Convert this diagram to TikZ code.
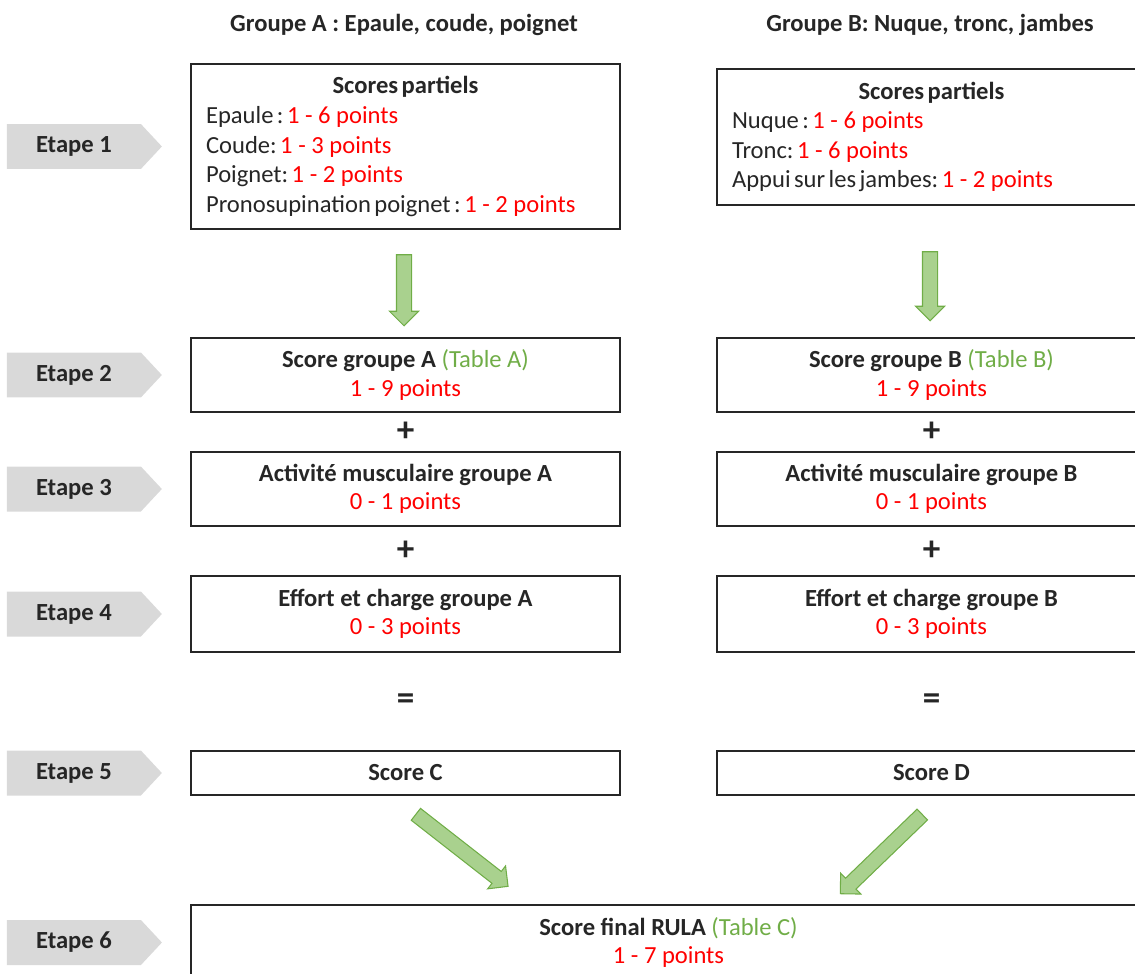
\documentclass[tikz,border=0pt]{standalone}
\usepackage{fontspec}
\setmainfont{Carlito}
\frenchspacing
\usetikzlibrary{positioning,calc,shapes.symbols,shapes.arrows}
\definecolor{etapegray}{HTML}{D9D9D9}
\definecolor{arrowfill}{HTML}{A9D18E}
\definecolor{arrowline}{HTML}{70AD47}
\definecolor{tablegreen}{HTML}{70AD47}
\definecolor{ptred}{HTML}{FF0000}
\definecolor{darktext}{HTML}{262626}
\newcommand{\pts}[1]{\textcolor{ptred}{\spaceskip=0pt\relax #1}}
\newcommand{\tbl}[1]{\textcolor{tablegreen}{#1}}
\newcommand{\tightspaces}{\spaceskip=0.14em plus 0.05em\relax}
\tikzset{
	stagebox/.style={
		rectangle,
		draw=black!85,
		line width=0.8pt,
		minimum width=8.58cm,
		text=darktext,
		align=center,
		font=\fontsize{14}{16.3}\selectfont},
	listbox/.style={
		stagebox,
		text width=7.98cm,
		inner xsep=0.3cm,
		align=left,
		font=\fontsize{14}{16.8}\selectfont},
	etape/.style={
		signal,
		signal to=east,
		signal pointer angle=94,
		fill=etapegray,
		minimum width=3.1cm,
		minimum height=0.9cm,
		text=darktext,
		font=\fontsize{14}{16}\selectfont\bfseries},
	bigarrow/.style={
		single arrow,
		fill=arrowfill,
		draw=arrowline,
		line width=0.6pt,
		inner sep=0.14cm,
		minimum width=0.56cm,
		single arrow head extend=0.14cm,
		single arrow head indent=0pt},
	opsign/.style={
		text=darktext,
		font=\fontsize{20}{22}\selectfont\bfseries},
	grouptitle/.style={
		text=darktext,
		font=\fontsize{14}{16}\selectfont\bfseries}
}
\begin{document}
\begin{tikzpicture}[
			x=0.02cm, y=-0.02cm,
			node distance = 0.56cm,
			]
    \useasboundingbox (0,0) rectangle (1135,973);
    \clip (0,0) rectangle (1135,973);

    % group titles
    \node[grouptitle] (GA) at (404,25) {Groupe A : Epaule, coude, poignet};
    \node[grouptitle] (GB) at (930,25) {Groupe B: Nuque, tronc, jambes};

    % step 1
    \node[listbox, minimum height=3.3cm] (A1) at (405.5,146.5) {\tightspaces
          \makebox[\linewidth]{\textbf{Scores partiels}}\\
          Epaule : \pts{1 - 6 points}\\
          Coude: \pts{1 - 3 points}\\
          Poignet: \pts{1 - 2 points}\\
          Pronosupination poignet : \pts{1 - 2 points}};
    \node[listbox, minimum height=2.72cm] (B1) at (931.5,137) {\tightspaces
          \makebox[\linewidth]{\textbf{Scores partiels}}\\
          Nuque : \pts{1 - 6 points}\\
          Tronc: \pts{1 - 6 points}\\
          Appui sur les jambes: \pts{1 - 2 points}};

    % steps 2 to 4
    \node[stagebox, minimum height=1.48cm] (A2) at (405.5,375) {\textbf{Score groupe A} \tbl{(Table A)}\\ \pts{1 - 9 points}};
    \node[stagebox, minimum height=1.48cm] (B2) at (931.5,375) {\textbf{Score groupe B} \tbl{(Table B)}\\ \pts{1 - 9 points}};
    \node[stagebox, minimum height=1.48cm] (A3) at (405.5,489) {\textbf{Activité musculaire groupe A}\\ \pts{0 - 1 points}};
    \node[stagebox, minimum height=1.48cm] (B3) at (931.5,489) {\textbf{Activité musculaire groupe B}\\ \pts{0 - 1 points}};
    \node[stagebox, minimum height=1.52cm] (A4) at (405.5,614) {\textbf{Effort et charge groupe A}\\ \pts{0 - 3 points}};
    \node[stagebox, minimum height=1.52cm] (B4) at (931.5,614) {\textbf{Effort et charge groupe B}\\ \pts{0 - 3 points}};

    % steps 5 and 6
    \node[stagebox, minimum height=0.88cm] (C) at (405.5,773) {\textbf{Score C}};
    \node[stagebox, minimum height=0.88cm] (D) at (931.5,773) {\textbf{Score D}};
    \node[stagebox, minimum width=19.1cm, minimum height=1.5cm] (F) at (668.5,942.5) {\textbf{Score final RULA} \tbl{(Table C)}\\ \pts{1 - 7 points}};

    % step labels
    \node[etape, left=of A1] (E1) {Etape 1};
    \node[etape, left=of A2] (E2) {Etape 2};
    \node[etape, left=of A3] (E3) {Etape 3};
    \node[etape, left=of A4] (E4) {Etape 4};
    \node[etape, left=of C]  (E5) {Etape 5};
    \node[etape, left=of F]  (E6) {Etape 6};

    % operators
    \node[opsign] (pA1) at ($(A2.south)!0.5!(A3.north)$) {+};
    \node[opsign] (pB1) at ($(B2.south)!0.5!(B3.north)$) {+};
    \node[opsign] (pA2) at ($(A3.south)!0.5!(A4.north)$) {+};
    \node[opsign] (pB2) at ($(B3.south)!0.5!(B4.north)$) {+};
    \node[opsign] (eqA) at ($(A4.south)!0.5!(C.north)$) {=};
    \node[opsign] (eqB) at ($(B4.south)!0.5!(D.north)$) {=};

    % block arrows
    \node[bigarrow, rotate=-90, minimum height=1.42cm] (arA) at (404,286.5) {};
    \node[bigarrow, rotate=-90, minimum height=1.38cm] (arB) at (930,282.5) {};
    \node[bigarrow, rotate=-38, minimum height=2.34cm] (arC) at (459,848) {};
    \node[bigarrow, rotate=-136, minimum height=2.28cm] (arD) at (884,851.5) {};
\end{tikzpicture}
\end{document}
